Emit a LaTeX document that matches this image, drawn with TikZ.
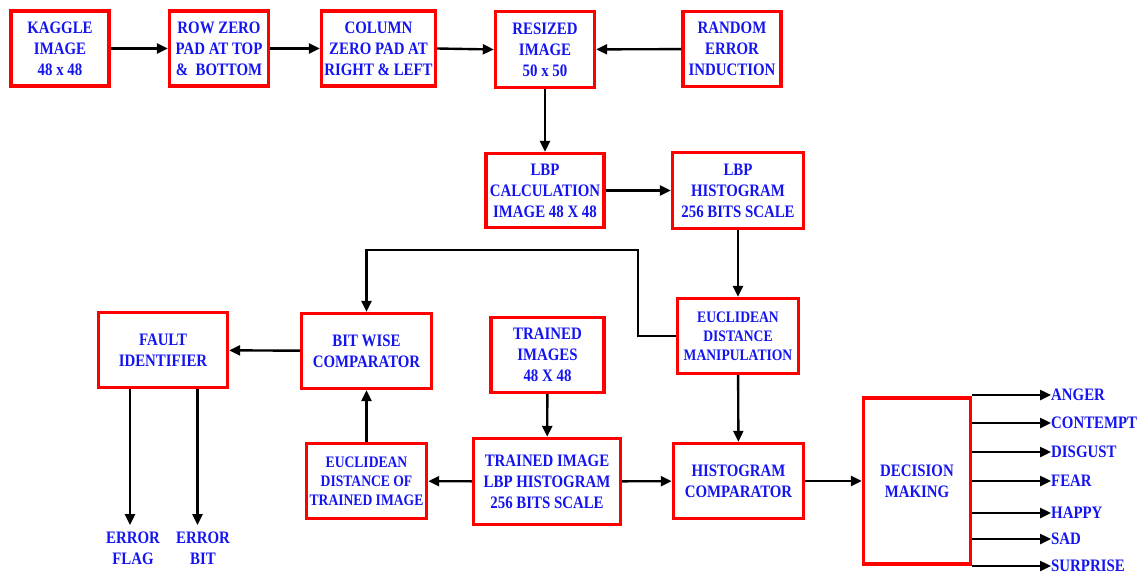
\documentclass[tikz,border=0pt]{standalone}
\usepackage{fontspec}
\newfontfamily\blkfont{Liberation Serif}[FakeStretch=0.85]
\usetikzlibrary{positioning, arrows.meta}
\definecolor{boxred}{RGB}{255,0,0}
\definecolor{txtblue}{RGB}{20,20,240}
\tikzset{
  blk/.style={draw=boxred, line width=3.4pt, text=txtblue, align=center,
    inner sep=0pt, font=\blkfont\bfseries\fontsize{17.5}{21}\selectfont},
  blksmall/.style={blk, font=\blkfont\bfseries\fontsize{16}{19}\selectfont},
  lbl/.style={text=txtblue, align=center, inner sep=0pt,
    font=\blkfont\bfseries\fontsize{17.5}{21}\selectfont},
  arr/.style={-{Triangle[length=11pt,width=10pt]}, line width=2.4pt}
}
\begin{document}
\begin{tikzpicture}[x=1pt, y=-1pt]
    \useasboundingbox (0,0) rectangle (1145,574);
    % top row
    \node[blk, minimum width=98pt, minimum height=75pt] (kaggle) at (60,48.5) {KAGGLE\\IMAGE\\48 x 48};
    \node[blk, minimum width=99pt, minimum height=75pt] (rowpad) at (219,48.5) {ROW ZERO\\PAD AT TOP\\\&\ \ BOTTOM};
    \node[blk, minimum width=114pt, minimum height=75pt] (colpad) at (378.5,48.5) {COLUMN\\ZERO PAD AT\\RIGHT \& LEFT};
    \node[blk, minimum width=99pt, minimum height=76pt] (resized) at (545,49.5) {RESIZED\\IMAGE\\50 x 50};
    \node[blk, minimum width=98pt, minimum height=75pt] (randerr) at (732,49) {RANDOM\\ERROR\\INDUCTION};
    % lbp stage
    \node[blk, minimum width=118pt, minimum height=74pt] (lbpcalc) at (545,190.5) {LBP\\CALCULATION\\IMAGE 48 X 48};
    \node[blk, minimum width=131pt, minimum height=76pt] (lbphist) at (738,190.5) {LBP\\HISTOGRAM\\256 BITS SCALE};
    \node[blksmall, minimum width=121pt, minimum height=75pt] (eucman) at (738,336) {EUCLIDEAN\\DISTANCE\\MANIPULATION};
    % fault path
    \node[blk, minimum width=129pt, minimum height=75pt] (fault) at (163,350) {FAULT\\IDENTIFIER};
    \node[blk, minimum width=130pt, minimum height=75pt] (bitwise) at (366.5,351) {BIT WISE\\COMPARATOR};
    \node[blk, minimum width=113pt, minimum height=75pt] (trainimg) at (547.5,355) {TRAINED\\IMAGES\\48 X 48};
    \node[blksmall, minimum width=120pt, minimum height=75pt] (euctrain) at (366.5,481) {EUCLIDEAN\\DISTANCE OF\\TRAINED IMAGE};
    \node[blk, minimum width=147pt, minimum height=86pt] (trainhist) at (547,481.5) {TRAINED IMAGE\\LBP HISTOGRAM\\256 BITS SCALE};
    \node[blk, minimum width=130pt, minimum height=75pt] (histcomp) at (738.5,481) {HISTOGRAM\\COMPARATOR};
    \node[blk, minimum width=107pt, minimum height=166pt] (decision) at (917,481) {DECISION\\MAKING};
    % error outputs
    \node[lbl] (eflag) at (133,548) {ERROR\\FLAG};
    \node[lbl] (ebit) at (203,548) {ERROR\\BIT};
    \coordinate (flagtip) at (130,525);
    \coordinate (bittip) at (197.5,525);
    \coordinate (fbk) at (638,250);

    \draw[arr] (kaggle) -- (rowpad);
    \draw[arr] (rowpad) -- (colpad);
    \draw[arr] (colpad.east) -- (resized.west);
    \draw[arr] (randerr) -- (resized);
    \draw[arr] (resized) -- (lbpcalc);
    \draw[arr] (lbpcalc) -- (lbphist);
    \draw[arr] (lbphist) -- (eucman);
    \draw[arr] (eucman) -- (histcomp);
    \draw[arr] (eucman.west) -| (fbk) -| (bitwise.north);
    \draw[arr] (bitwise) -- (fault);
    \draw[arr] (fault.south -| flagtip) -- (flagtip);
    \draw[arr] (fault.south -| bittip) -- (bittip);
    \draw[arr] (trainimg) -- (trainhist);
    \draw[arr] (trainhist) -- (euctrain);
    \draw[arr] (euctrain) -- (bitwise);
    \draw[arr] (trainhist) -- (histcomp);
    \draw[arr] (histcomp) -- (decision);
    % emotion classes
    \foreach \yy/\name in {395/ANGER, 423/CONTEMPT, 452/DISGUST, 481/FEAR, 513/HAPPY, 539/SAD, 566/SURPRISE}{
      \node[lbl, anchor=west] (out\name) at (1051,\yy) {\name};
      \draw[arr] (decision.east |- out\name.west) -- (out\name.west);
    }
\end{tikzpicture}
\end{document}
